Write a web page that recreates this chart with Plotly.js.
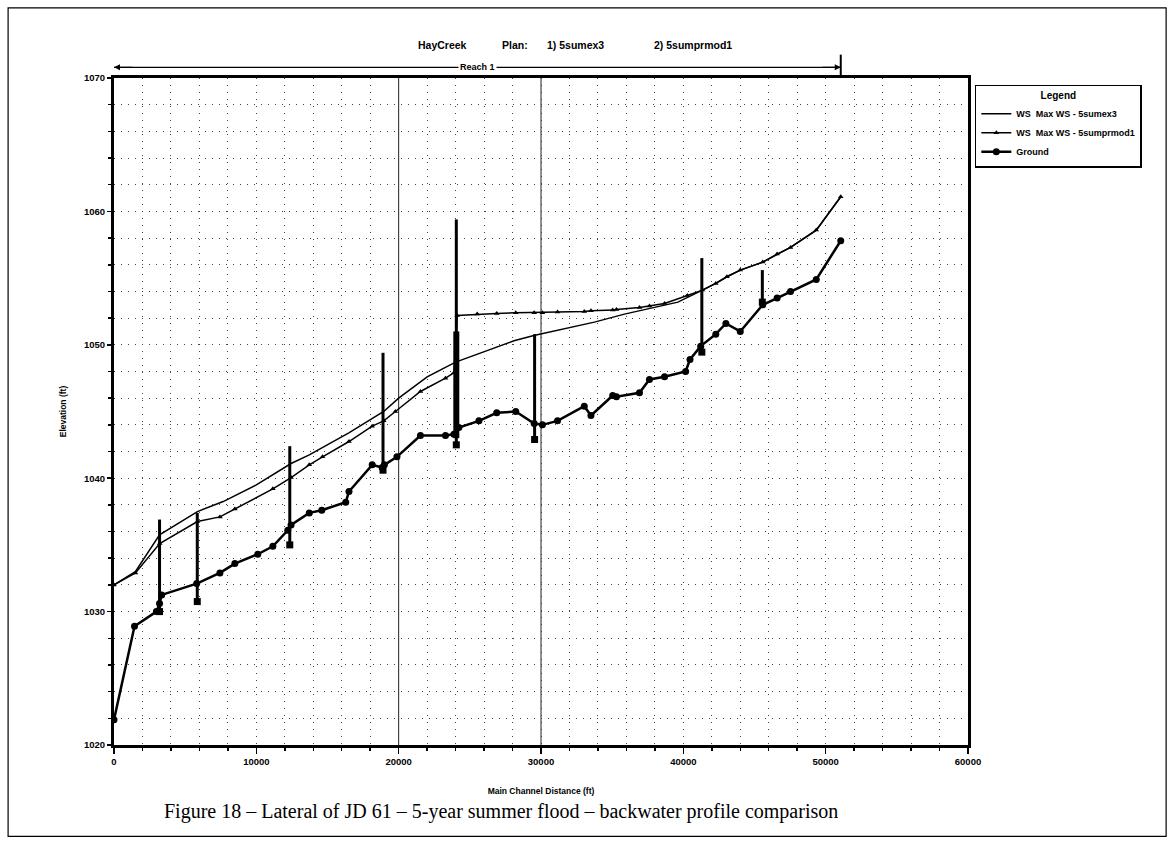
<!DOCTYPE html>
<html><head><meta charset="utf-8">
<script src="https://cdn.plot.ly/plotly-3.0.1.min.js"></script>
<style>html,body{margin:0;padding:0;background:#fff}</style>
</head><body><div id="chart" style="width:1174px;height:851px"></div>
<script>
// ---- data ----
const seriesNames = ['WS  Max WS - 5sumex3', 'WS  Max WS - 5sumprmod1', 'Ground'];

const wsExStation = [0, 1500, 3200, 5860, 7670, 10000, 12440, 13720, 16500, 18950, 20000, 22000, 24000, 26000, 28100, 29500, 31630, 33750, 35860, 37980, 39620, 41340, 42280, 43060, 44000, 45580, 46590, 47530, 49340, 51060];
const wsExElev    = [1032.0, 1033.0, 1035.75, 1037.5, 1038.25, 1039.5, 1041.1, 1041.75, 1043.4, 1045.0, 1046.0, 1047.6, 1048.7, 1049.5, 1050.3, 1050.7, 1051.2, 1051.7, 1052.3, 1052.8, 1053.2, 1054.1, 1054.6, 1055.1, 1055.6, 1056.2, 1056.8, 1057.3, 1058.6, 1061.1];

const wsModStation = [0, 1510, 3210, 5860, 7440, 8490, 11160, 12440, 13720, 14650, 16510, 18140, 18950, 19770, 21530, 23290, 23880, 24110, 25520, 26890, 28225, 29520, 30100, 31160, 33040, 33510, 35040, 35300, 36920, 37620, 38680, 40280, 41340, 42280, 43060, 44000, 45580, 46590, 47530, 49340, 51060];
const wsModElev    = [1032.0, 1032.9, 1035.1, 1036.75, 1037.1, 1037.7, 1039.2, 1040.05, 1041.0, 1041.6, 1042.75, 1043.9, 1044.3, 1045.0, 1046.5, 1047.5, 1047.9, 1052.2, 1052.3, 1052.35, 1052.4, 1052.4, 1052.4, 1052.45, 1052.5, 1052.55, 1052.6, 1052.65, 1052.8, 1052.9, 1053.1, 1053.7, 1054.1, 1054.6, 1055.1, 1055.6, 1056.2, 1056.8, 1057.3, 1058.6, 1061.1];

const groundStation = [0, 1440, 2980, 3200, 3350, 5810, 7440, 8490, 10100, 11160, 12210, 12440, 13720, 14600, 16280, 16510, 18140, 18840, 19000, 19880, 21530, 23290, 23880, 24230, 25640, 26890, 28225, 29520, 30100, 31160, 33040, 33510, 35040, 35300, 36920, 37620, 38680, 40160, 40470, 41220, 42280, 42990, 44000, 45580, 46590, 47530, 49340, 51060];
const groundElev    = [1021.9, 1028.9, 1030.0, 1030.6, 1031.25, 1032.1, 1032.9, 1033.6, 1034.3, 1034.9, 1036.1, 1036.5, 1037.4, 1037.6, 1038.2, 1039.0, 1041.0, 1040.8, 1041.0, 1041.6, 1043.2, 1043.2, 1043.3, 1043.8, 1044.3, 1044.9, 1045.0, 1044.1, 1044.0, 1044.3, 1045.4, 1044.7, 1046.2, 1046.1, 1046.4, 1047.4, 1047.6, 1048.0, 1048.9, 1049.9, 1050.8, 1051.6, 1051.0, 1053.0, 1053.5, 1054.0, 1054.9, 1057.8];

const structStation = [3200, 5850, 12350, 18900, 24050, 29550, 41300, 45550];
const structBottom  = [1030.0, 1030.75, 1035.0, 1040.6, 1042.5, 1042.9, 1049.45, 1053.2];
const structTop     = [1036.9, 1037.4, 1042.4, 1049.4, 1059.4, 1050.8, 1056.5, 1055.6];
// dense cluster of sections drawn as a heavier bar
const clusterStation = [24050];
const clusterBottom  = [1043.0];
const clusterTop     = [1051.0];

const xTickVals = [0, 10000, 20000, 30000, 40000, 50000, 60000];
const yTickVals = [1020, 1030, 1040, 1050, 1060, 1070];
const solidGridStations = [20000, 30000];

const titleParts = ['HayCreek', 'Plan:', '1) 5sumex3', '2) 5sumprmod1'];
const reachName = 'Reach 1';
const caption = 'Figure 18 \u2013 Lateral of JD 61 \u2013 5-year summer flood \u2013 backwater profile comparison';

// ---- build traces ----
function bars(st, lo, hi) {
  const x = [], y = [];
  st.forEach((s, i) => { x.push(s, s, null); y.push(lo[i], hi[i], null); });
  return {x, y};
}
const sb = bars(structStation, structBottom, structTop);
const cb = bars(clusterStation, clusterBottom, clusterTop);

const traces = [
  {x: wsExStation, y: wsExElev, name: seriesNames[0], mode: 'lines', type: 'scatter',
   line: {color: '#000', width: 1.5}},
  {x: wsModStation, y: wsModElev, name: seriesNames[1], mode: 'lines+markers', type: 'scatter',
   line: {color: '#000', width: 1.5}, marker: {symbol: 'triangle-up', size: 5, color: '#000'}},
  {x: groundStation, y: groundElev, name: seriesNames[2], mode: 'lines+markers', type: 'scatter',
   line: {color: '#000', width: 2.5}, marker: {symbol: 'circle', size: 7, color: '#000'}},
  {x: sb.x, y: sb.y, mode: 'lines', type: 'scatter', showlegend: false, hoverinfo: 'skip',
   line: {color: '#000', width: 3}},
  {x: cb.x, y: cb.y, mode: 'lines', type: 'scatter', showlegend: false, hoverinfo: 'skip',
   line: {color: '#000', width: 6}},
  {x: structStation, y: structBottom, mode: 'markers', type: 'scatter', showlegend: false,
   marker: {symbol: 'square', size: 7, color: '#000'}}
];

const reachEnd = Math.max(...groundStation);
const gridStyle = {gridcolor: '#444', griddash: '1px,6px', gridwidth: 1};
const titleX = [0.385, 0.47, 0.54, 0.678];

const layout = {
  width: 1174, height: 851,
  margin: {l: 114, r: 206, t: 78, b: 106},
  paper_bgcolor: '#fff', plot_bgcolor: '#fff',
  font: {family: 'Arial, "Liberation Sans", sans-serif', color: '#000'},
  showlegend: true,
  legend: {x: 1.008, y: 0.99, xanchor: 'left', yanchor: 'top',
    bordercolor: '#000', borderwidth: 1.5, bgcolor: '#fff',
    font: {size: 9, family: 'Arial, "Liberation Sans", sans-serif', weight: 'bold'},
    title: {text: '<b>Legend</b>', side: 'top center', font: {size: 10}},
    tracegroupgap: 2, itemwidth: 30},
  xaxis: {range: [0, 60000], tickvals: xTickVals, ticktext: xTickVals.map(String),
    showline: true, mirror: true, linecolor: '#000', linewidth: 3,
    ticks: 'outside', ticklen: 6, tickwidth: 1.5, tickcolor: '#000',
    tickfont: {size: 9.5, weight: 'bold'},
    showgrid: true, ...gridStyle, zeroline: false,
    minor: {dtick: 2000, ticks: 'outside', ticklen: 3, tickcolor: '#000', showgrid: true, ...gridStyle},
    title: {text: '<b>Main Channel Distance (ft)</b>', font: {size: 8.5}, standoff: 22}},
  yaxis: {range: [1020, 1070], tickvals: yTickVals, ticktext: yTickVals.map(String),
    showline: true, mirror: true, linecolor: '#000', linewidth: 3,
    ticks: 'outside', ticklen: 4, tickwidth: 1.5, tickcolor: '#000',
    tickfont: {size: 9.5, weight: 'bold'},
    showgrid: true, ...gridStyle, zeroline: false,
    minor: {dtick: 2, ticks: 'outside', ticklen: 3, tickcolor: '#000', showgrid: true, ...gridStyle},
    title: {text: '<b>Elevation (ft)</b>', font: {size: 8.5}, standoff: 16}},
  shapes: [
    {type: 'rect', xref: 'paper', yref: 'paper', x0: -0.124, x1: 1.232, y0: -0.137, y1: 1.105,
     line: {color: '#000', width: 1.2}},
    {type: 'line', xref: 'x', yref: 'paper', x0: 0, x1: reachEnd, y0: 1.016, y1: 1.016,
     line: {color: '#000', width: 1.2}},
    {type: 'line', xref: 'x', yref: 'paper', x0: reachEnd, x1: reachEnd, y0: 1.0, y1: 1.035,
     line: {color: '#000', width: 2}},
    ...solidGridStations.map(s => ({type: 'line', xref: 'x', yref: 'paper', x0: s, x1: s, y0: 0, y1: 1,
      line: {color: '#222', width: 1}, layer: 'below'}))
  ],
  annotations: [
    ...titleParts.map((t, i) => ({xref: 'paper', yref: 'paper', x: titleX[i], y: 1.049, text: '<b>' + t + '</b>',
      showarrow: false, font: {size: 10.5}, xanchor: 'center', yanchor: 'middle'})),
    {xref: 'x', yref: 'paper', x: reachEnd / 2, y: 1.016, text: '<b>' + reachName + '</b>', showarrow: false,
     font: {size: 9}, bgcolor: '#fff', xanchor: 'center', yanchor: 'middle', borderpad: 1},
    {xref: 'x', yref: 'paper', x: 0, y: 1.016, ax: 20, ay: 0, text: '', showarrow: true,
     arrowhead: 2, arrowsize: 1, arrowwidth: 1.2, arrowcolor: '#000'},
    {xref: 'x', yref: 'paper', x: reachEnd, y: 1.016, ax: -20, ay: 0, text: '', showarrow: true,
     arrowhead: 2, arrowsize: 1, arrowwidth: 1.2, arrowcolor: '#000'},
    {xref: 'paper', yref: 'paper', x: 0.453, y: -0.1, text: caption, showarrow: false,
     font: {size: 20, family: '"Liberation Serif", "Times New Roman", serif'}, xanchor: 'center', yanchor: 'middle'}
  ]
};

Plotly.newPlot('chart', traces, layout, {displayModeBar: false, staticPlot: true});
</script></body></html>
